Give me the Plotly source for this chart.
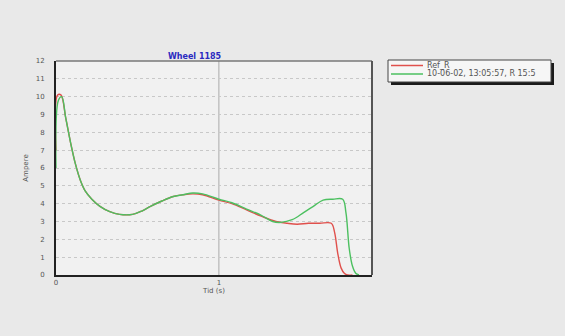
import plotly.graph_objects as go

# ---- data ----
t_ref = [0.0, 0.01, 0.03, 0.06, 0.09, 0.12, 0.15, 0.18, 0.22, 0.27, 0.33, 0.39, 0.47, 0.53,
         0.58, 0.65, 0.72, 0.78, 0.84, 0.90, 1.00, 1.08, 1.17, 1.26, 1.35, 1.42, 1.48,
         1.55, 1.62, 1.69, 1.71, 1.73, 1.75, 1.77, 1.79, 1.82]
ref = [7.0, 10.1, 10.1, 8.8, 7.4, 6.2, 5.3, 4.7, 4.25, 3.85, 3.55, 3.4, 3.4, 3.6,
       3.85, 4.15, 4.4, 4.5, 4.55, 4.5, 4.2, 4.0, 3.65, 3.3, 3.0, 2.9, 2.85,
       2.9, 2.9, 2.9, 2.4, 1.2, 0.4, 0.1, 0.0, 0.0]

t_meas = [0.0, 0.015, 0.035, 0.06, 0.09, 0.12, 0.15, 0.18, 0.22, 0.27, 0.33, 0.39, 0.47, 0.53,
          0.58, 0.65, 0.72, 0.78, 0.84, 0.90, 1.00, 1.08, 1.17, 1.26, 1.33, 1.38, 1.45,
          1.52, 1.58, 1.64, 1.70, 1.76, 1.78, 1.80, 1.82, 1.84, 1.86]
meas = [6.0, 9.8, 10.0, 8.8, 7.4, 6.2, 5.3, 4.7, 4.25, 3.85, 3.55, 3.4, 3.4, 3.6,
        3.85, 4.15, 4.4, 4.5, 4.6, 4.55, 4.25, 4.05, 3.7, 3.35, 3.0, 2.95, 3.1,
        3.5, 3.85, 4.2, 4.25, 4.25, 3.5, 1.5, 0.5, 0.1, 0.0]

names = ["Ref_R", "10-06-02, 13:05:57, R 15:5"]
colors = ["#e0504c", "#4cc060"]
title_text = "Wheel 1185"
y_ticks = list(range(0, 13))
x_ticks = [0, 1]

W, H = 565, 336
L, R, T, B = 56, 193, 61, 61
pw, ph = W - L - R, H - T - B

def px_x(p):
    return (p - L) / pw

def px_y(p):
    return (H - B - p) / ph

fig = go.Figure()
fig.add_trace(go.Scatter(x=t_ref, y=ref, mode="lines", name=names[0],
                         line=dict(color=colors[0], width=1.4), line_shape="spline"))
fig.add_trace(go.Scatter(x=t_meas, y=meas, mode="lines", name=names[1],
                         line=dict(color=colors[1], width=1.4), line_shape="spline"))

# legend frame with shadow
fig.add_shape(type="rect", xref="paper", yref="paper",
              x0=px_x(391), x1=px_x(554), y0=px_y(85), y1=px_y(63),
              fillcolor="#1a1a1a", line=dict(width=0), layer="below")
fig.add_shape(type="rect", xref="paper", yref="paper",
              x0=px_x(388), x1=px_x(551), y0=px_y(82), y1=px_y(60),
              fillcolor="#f6f6f6", line=dict(color="#444444", width=1), layer="below")
for i, (nm, c) in enumerate(zip(names, colors)):
    yy = 65.5 + i * 8.5
    fig.add_shape(type="line", xref="paper", yref="paper",
                  x0=px_x(391), x1=px_x(423), y0=px_y(yy), y1=px_y(yy),
                  line=dict(color=c, width=1.5))
    fig.add_annotation(text=nm, xref="paper", yref="paper", x=px_x(425), y=px_y(yy),
                       xanchor="left", yanchor="middle", showarrow=False,
                       font=dict(family="DejaVu Sans", size=8, color="#555555"))

# vertical line at x=1
fig.add_shape(type="line", xref="x", yref="paper", x0=1, x1=1, y0=0, y1=1,
              line=dict(color="#aaaaaa", width=1), layer="below")

fig.add_annotation(text="<b>" + title_text + "</b>", xref="paper", yref="paper",
                   x=px_x(195), y=px_y(50), showarrow=False,
                   font=dict(family="DejaVu Sans", size=8, color="#2a2ac0"))

fig.update_layout(
    width=W, height=H,
    margin=dict(l=L, r=R, t=T, b=B, pad=0),
    paper_bgcolor="#e9e9e9",
    plot_bgcolor="#f1f1f1",
    font=dict(family="DejaVu Sans", size=7, color="#555555"),
    showlegend=False,
    xaxis=dict(range=[0, 1.94], tickvals=x_ticks, showgrid=False,
               showline=True, linecolor="#222222", linewidth=2, mirror=False,
               zeroline=False, ticks="", ticklen=0,
               title=dict(text="Tid (s)", font=dict(size=7), standoff=2)),
    yaxis=dict(range=[0, 12], tickvals=y_ticks, showgrid=True,
               gridcolor="#c8c8c8", griddash="dot", gridwidth=1,
               showline=True, linecolor="#222222", linewidth=2,
               zeroline=False, ticks="", ticklabelstandoff=8,
               title=dict(text="Ampere", font=dict(size=7), standoff=6)),
)
# top/right border
fig.add_shape(type="line", xref="paper", yref="paper", x0=0, x1=1, y0=1, y1=1,
              line=dict(color="#777777", width=1.5))
fig.add_shape(type="line", xref="paper", yref="paper", x0=1, x1=1, y0=0, y1=1,
              line=dict(color="#555555", width=2))

fig.write_html("out.html")
